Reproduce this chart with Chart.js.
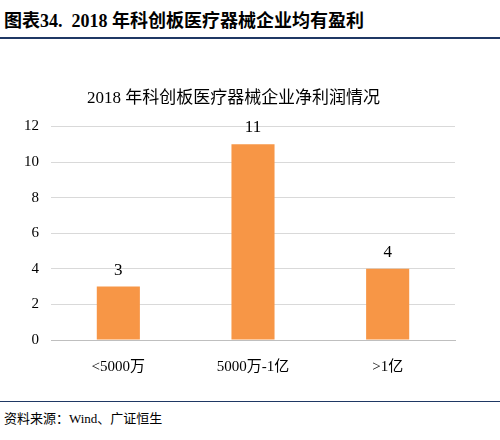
<!DOCTYPE html>
<html><head><meta charset="utf-8">
<script src="https://cdn.jsdelivr.net/npm/chart.js@4"></script>
<style>
body{margin:0;width:500px;height:440px;background:#fff;font-family:"Liberation Serif","Noto Sans CJK SC",serif;position:relative;overflow:hidden}
#hdr{position:absolute;left:4px;top:6px;font-size:18px;font-weight:bold;color:#000;font-family:"Liberation Serif","Noto Sans CJK SC",serif}
#l1{position:absolute;left:0;top:37px;width:500px;height:2px;background:#1f3864}
#l2{position:absolute;left:0;top:401px;width:500px;height:1px;background:#1f3864}
#ftr{position:absolute;left:4px;top:408px;font-size:13px;color:#000}
#wrap{position:absolute;left:4px;top:88px;width:471px;height:298px}
</style></head><body>
<div id="hdr">图表34.&nbsp; 2018 年科创板医疗器械企业均有盈利</div>
<div id="l1"></div>
<div id="wrap"><canvas id="c"></canvas></div>
<div id="l2"></div>
<div id="ftr">资料来源：Wind、广证恒生</div>
<script>
const categories=["<5000万","5000万-1亿",">1亿"];
const values=[3,11,4];
const yTicks=[0,2,4,6,8,10,12];
const font="'Liberation Serif','Noto Sans CJK SC',serif";
const labels={id:'lbl',afterDatasetsDraw(ch){const ctx=ch.ctx;ctx.save();ctx.font="17px "+font;ctx.fillStyle="#000";ctx.textAlign="center";ctx.textBaseline="bottom";
ch.getDatasetMeta(0).data.forEach((b,i)=>ctx.fillText(values[i],b.x,b.y-8));ctx.restore();}};
new Chart(document.getElementById('c'),{type:'bar',plugins:[labels],data:{labels:categories,datasets:[{data:values,backgroundColor:'#F79646',barPercentage:0.32,categoryPercentage:1}]},
options:{responsive:true,maintainAspectRatio:false,animation:false,layout:{padding:{left:8,right:20,top:0,bottom:0}},
plugins:{legend:{display:false},tooltip:{enabled:false},title:{display:true,text:'2018 年科创板医疗器械企业净利润情况',font:{family:font,size:17,weight:'normal'},color:'#000',padding:{top:0,bottom:18}}},
scales:{y:{min:0,max:12,afterBuildTicks(s){s.ticks=yTicks.map(v=>({value:v}));},ticks:{font:{family:font,size:15},color:'#000',padding:12},grid:{color:'#d9d9d9',drawTicks:false},border:{display:false}},
x:{ticks:{font:{family:font,size:15},color:'#000',padding:10},grid:{display:false},border:{color:'#bfbfbf'}}}}});
</script>
</body></html>
